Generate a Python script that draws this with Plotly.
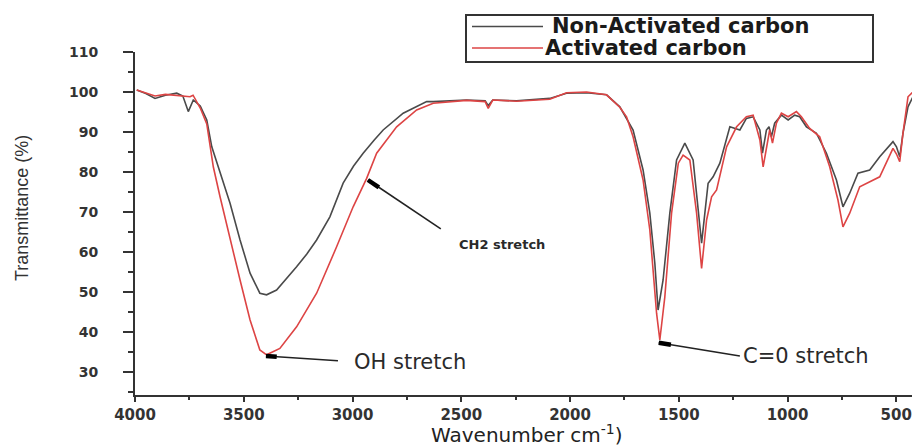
import plotly.graph_objects as go

# --- FTIR data (wavenumber cm-1, transmittance %) ---
wn_non = [3992, 3950, 3908, 3860, 3808, 3780, 3755, 3732, 3700, 3670, 3647, 3609, 3563,
          3517, 3471, 3426, 3395, 3349, 3300, 3257, 3210, 3165, 3104, 3043, 2995, 2951,
          2900, 2859, 2767, 2659, 2629, 2476, 2390, 2376, 2355, 2246, 2093, 2016, 1924,
          1832, 1771, 1710, 1664, 1633, 1610, 1595, 1572, 1541, 1510, 1472, 1434, 1411,
          1395, 1380, 1365, 1342, 1311, 1265, 1219, 1189, 1158, 1127, 1115, 1097, 1085,
          1074, 1059, 1028, 997, 967, 944, 913, 867, 821, 775, 745, 714, 676, 622, 576,
          515, 499, 484, 469, 446, 423, 415, 401]
t_non = [100.5, 99.6, 98.4, 99.2, 99.7, 99.0, 95.1, 98.0, 96.5, 93.0, 86.3, 79.7, 72.2,
         63.0, 54.7, 49.7, 49.3, 50.5, 53.5, 56.3, 59.5, 63.0, 68.8, 77.2, 81.5, 84.7,
         88.0, 90.5, 94.7, 97.6, 97.6, 98.0, 97.8, 96.6, 98.0, 97.8, 98.4, 99.7, 99.8,
         99.3, 96.3, 90.5, 80.5, 69.7, 57.2, 45.5, 53.0, 69.7, 83.0, 87.2, 83.0, 71.3,
         62.2, 69.7, 77.2, 78.8, 82.2, 91.3, 90.5, 93.4, 93.8, 90.5, 84.7, 90.5, 91.3,
         88.8, 92.2, 94.2, 93.0, 94.2, 93.8, 91.3, 89.7, 84.7, 78.0, 71.3, 74.7, 79.7,
         80.5, 83.8, 87.6, 86.3, 83.8, 89.7, 96.3, 98.8, 100.1, 98.0]

wn_act = [3992, 3950, 3908, 3860, 3808, 3747, 3733, 3700, 3670, 3640, 3609, 3563, 3517,
          3471, 3426, 3395, 3334, 3257, 3165, 3073, 2997, 2935, 2889, 2797, 2705, 2629,
          2476, 2390, 2376, 2355, 2246, 2093, 2016, 1924, 1832, 1771, 1740, 1710, 1664,
          1633, 1602, 1587, 1564, 1533, 1502, 1480, 1449, 1418, 1395, 1372, 1349, 1326,
          1280, 1234, 1189, 1158, 1127, 1112, 1097, 1082, 1069, 1051, 1028, 997, 959,
          936, 898, 852, 806, 768, 745, 714, 668, 622, 576, 515, 499, 484, 469, 446,
          415, 401]
t_act = [100.5, 99.8, 99.0, 99.4, 99.2, 98.8, 99.2, 96.0, 92.0, 81.3, 73.8, 63.0, 53.0,
         43.0, 35.5, 34.3, 35.9, 41.3, 49.7, 61.3, 71.3, 78.4, 84.7, 91.3, 95.5, 97.2,
         97.9, 97.6, 95.9, 98.0, 97.7, 98.2, 99.8, 100.0, 99.3, 96.2, 93.8, 88.8, 78.0,
         65.5, 44.7, 38.0, 48.8, 69.7, 82.2, 84.2, 83.0, 69.7, 55.9, 68.0, 73.8, 75.5,
         86.3, 91.3, 93.8, 94.2, 88.0, 81.3, 86.3, 90.5, 87.2, 92.2, 94.7, 93.8, 95.1,
         93.8, 90.9, 88.8, 81.3, 73.0, 66.3, 69.7, 76.3, 77.6, 78.8, 85.9, 84.5, 82.6,
         89.7, 98.8, 100.5, 99.2]

series_names = ['Non-Activated carbon', 'Activated carbon']
series_colors = ['#4a4a4a', '#dd4444']

x_ticks = [4000, 3500, 3000, 2500, 2000, 1500, 1000, 500]
y_ticks = [30, 40, 50, 60, 70, 80, 90, 100, 110]

# band labels: (point wn, point T, line end wn, line end T, text wn, text T, text, size)
bands = [
    (3398, 34.0, 3067, 32.8, 3003, 32.6, "OH stretch", 21),
    (2929, 78.0, 2594, 65.8, 2520, 61.8, "CH2 stretch", 13),
    (1592, 37.3, 1219, 34.0, 1215, 34.0, "C=0 stretch", 21),
]

# the page has an 8px body margin, so the figure is shrunk by that much
L, T, PW, PH = 127, 44, 783, 343


def px(x):  # page pixel -> paper x
    return (x - 135) / PW


def py(y):  # page pixel -> paper y
    return (52 + PH - y) / PH


fig = go.Figure()
fig.add_trace(go.Scatter(x=wn_non, y=t_non, mode='lines', name=series_names[0],
                         line=dict(color=series_colors[0], width=1.6)))
fig.add_trace(go.Scatter(x=wn_act, y=t_act, mode='lines', name=series_names[1],
                         line=dict(color=series_colors[1], width=1.6)))

for bx, by, lx, ly, tx, ty, txt, size in bands:
    fig.add_shape(type='line', xref='x', yref='y', x0=bx, y0=by, x1=lx, y1=ly,
                  line=dict(color='#222', width=1.6))
    fig.add_shape(type='line', xref='x', yref='y', x0=bx, y0=by,
                  x1=bx + (lx - bx) * 0.15, y1=by + (ly - by) * 0.15,
                  line=dict(color='#000', width=4.5))
    fig.add_annotation(x=tx, y=ty, text=txt, showarrow=False, xanchor='left',
                       font=dict(family='DejaVu Sans', size=size, color='#2a2a2a',
                                 weight='bold' if size < 15 else 'normal'))

# hand-drawn legend box, like the original
fig.add_shape(type='rect', xref='paper', yref='paper', x0=px(466), x1=px(873),
              y0=py(62), y1=py(15), line=dict(color='#333', width=2), fillcolor='white')
for i, (name, col) in enumerate(zip(series_names, series_colors)):
    yy = py(26.5 + 21.5 * i)
    fig.add_shape(type='line', xref='paper', yref='paper', x0=px(472), x1=px(543),
                  y0=yy, y1=yy, line=dict(color=col, width=1.6))
    fig.add_annotation(xref='paper', yref='paper', x=px(550 - 7 * i), y=yy, text=name,
                       showarrow=False, xanchor='left', yanchor='middle',
                       font=dict(family='DejaVu Sans', size=21, color='#1a1a1a',
                                 weight='bold'))

# axis titles
fig.add_annotation(xref='paper', yref='paper', x=px(527), y=py(434),
                   text='Wavenumber cm<sup>-1</sup>)', showarrow=False,
                   xanchor='center', yanchor='middle',
                   font=dict(family='DejaVu Sans', size=20, color='#222'))
fig.add_annotation(xref='paper', yref='paper', x=px(22), y=py(208),
                   text='Transmittance (%)', showarrow=False, textangle=-90,
                   xanchor='center', yanchor='middle',
                   font=dict(family='Liberation Sans', size=18, color='#333'))

fig.update_layout(
    width=912, height=440,
    paper_bgcolor='white', plot_bgcolor='white',
    margin=dict(l=L, r=2, t=T, b=53),
    showlegend=False,
    font=dict(family='DejaVu Sans', color='#333'),
)
fig.update_xaxes(range=[4000, 400], tickvals=x_ticks, showgrid=False, zeroline=False,
                 showline=True, linecolor='#333', linewidth=2,
                 ticks='outside', ticklen=5, tickwidth=2, tickcolor='#333',
                 minor=dict(dtick=250, ticks='outside', ticklen=3, tickwidth=2, tickcolor='#333'),
                 tickfont=dict(family='DejaVu Sans', size=15, color='#333', weight='bold'))
fig.update_yaxes(range=[24.25, 110], tickvals=y_ticks, showgrid=False, zeroline=False,
                 showline=True, linecolor='#333', linewidth=2,
                 ticks='outside', ticklen=10, tickwidth=2, tickcolor='#333',
                 ticklabelstandoff=22,
                 minor=dict(dtick=5, ticks='outside', ticklen=5, tickwidth=2, tickcolor='#333'),
                 tickfont=dict(family='DejaVu Sans', size=14, color='#333', weight='bold'))

fig.write_html("out.html")
